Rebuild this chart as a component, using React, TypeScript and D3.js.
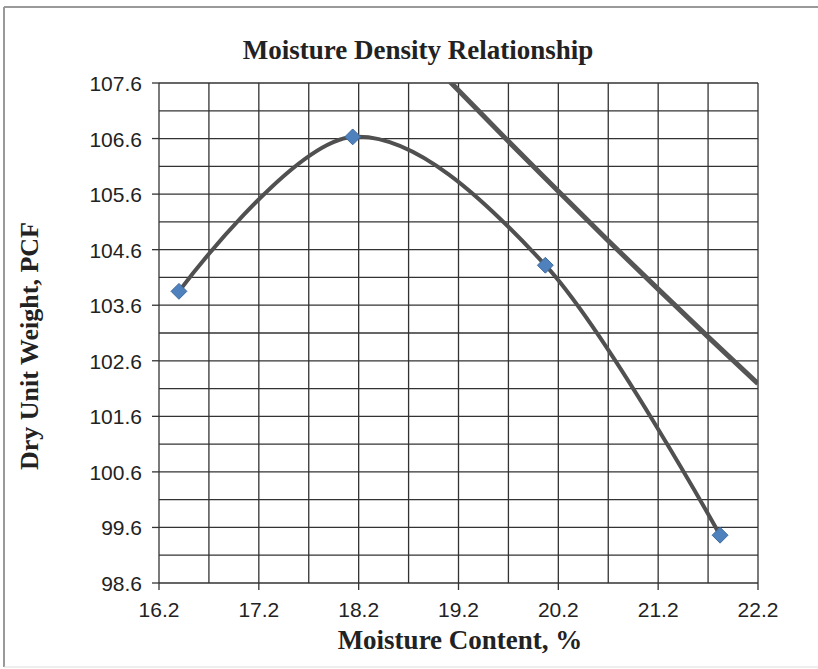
import React from 'react';
import * as d3 from 'd3';

const moisture = [16.4, 18.14, 20.07, 21.82];
const density = [103.85, 106.63, 104.32, 99.46];

const zavMoisture = [19.1, 19.7, 20.2, 20.7, 21.2, 21.7, 22.2];
const zavDensity = [107.65, 106.55, 105.65, 104.76, 103.89, 103.03, 102.19];

const xTicks = [16.2, 17.2, 18.2, 19.2, 20.2, 21.2, 22.2];
const yTicks = [98.6, 99.6, 100.6, 101.6, 102.6, 103.6, 104.6, 105.6, 106.6, 107.6];

const W = 818;
const H = 669;
const margin = { top: 83, right: 60, bottom: 86, left: 151 };

export default function App() {
  const innerW = W - margin.left - margin.right - 8;
  const innerH = H - margin.top - margin.bottom;

  const x = d3.scaleLinear().domain([16.2, 22.2]).range([0, innerW]);
  const y = d3.scaleLinear().domain([98.6, 107.6]).range([innerH, 0]);

  const xGrid = d3.range(16.2, 22.21, 0.5);
  const yGrid = d3.range(98.6, 107.61, 0.5);

  const pts = moisture.map((m, i) => [m, density[i]] as [number, number]);
  const zav = zavMoisture.map((m, i) => [m, zavDensity[i]] as [number, number]);

  const smooth = d3
    .line<[number, number]>()
    .x((d) => x(d[0]))
    .y((d) => y(d[1]))
    .curve(d3.curveCatmullRom.alpha(0));

  const serif = '"Liberation Serif", "Times New Roman", serif';
  const sans = '"Liberation Sans", Arial, sans-serif';
  const gridColor = '#333';

  const diamond = d3.symbol().type(d3.symbolDiamond2).size(160)();

  return (
    <svg width={W} height={H} style={{ position: 'absolute', left: 0, top: 0, background: '#fff' }}>
      <line x1={4} y1={7} x2={818} y2={7} stroke="#999" strokeWidth={2} />
      <line x1={4} y1={7} x2={4} y2={667} stroke="#999" strokeWidth={2} />
      <line x1={4} y1={667} x2={818} y2={667} stroke="#ddd" strokeWidth={1} />

      <text x={418} y={59} textAnchor="middle" fontFamily={serif} fontWeight="bold" fontSize={27} fill="#222">
        Moisture Density Relationship
      </text>

      <g transform={`translate(${margin.left + 8},${margin.top})`}>
        <defs>
          <clipPath id="plot">
            <rect x={0} y={0} width={innerW} height={innerH} />
          </clipPath>
        </defs>
        {xGrid.map((v) => (
          <line key={'vx' + v} x1={x(v)} x2={x(v)} y1={0} y2={innerH} stroke={gridColor} strokeWidth={1.3} />
        ))}
        {yGrid.map((v) => (
          <line key={'hy' + v} x1={0} x2={innerW} y1={y(v)} y2={y(v)} stroke={gridColor} strokeWidth={1.3} />
        ))}
        {xTicks.map((v) => (
          <g key={'xt' + v}>
            <line x1={x(v)} x2={x(v)} y1={innerH} y2={innerH + 7} stroke={gridColor} strokeWidth={1.3} />
            <text x={x(v)} y={innerH + 34} textAnchor="middle" fontFamily={sans} fontSize={21} fill="#222">
              {v.toFixed(1)}
            </text>
          </g>
        ))}
        {yTicks.map((v) => (
          <g key={'yt' + v}>
            <line x1={-7} x2={0} y1={y(v)} y2={y(v)} stroke={gridColor} strokeWidth={1.3} />
            <text x={-17} y={y(v) + 8} textAnchor="end" fontFamily={sans} fontSize={21} fill="#222">
              {v.toFixed(1)}
            </text>
          </g>
        ))}

        <g clipPath="url(#plot)">
          <path d={smooth(zav) || ''} fill="none" stroke="#555" strokeWidth={5} />
          <path d={smooth(pts) || ''} fill="none" stroke="#505050" strokeWidth={4} />
        </g>
        {pts.map((p, i) => (
          <path
            key={'p' + i}
            d={diamond || ''}
            transform={`translate(${x(p[0])},${y(p[1])})`}
            fill="#4f81bd"
            stroke="#3d6a9e"
            strokeWidth={1}
          />
        ))}
      </g>

      <text x={460} y={649} textAnchor="middle" fontFamily={serif} fontWeight="bold" fontSize={27} fill="#222">
        Moisture Content, %
      </text>
      <text
        transform="translate(38,346) rotate(-90)"
        textAnchor="middle"
        fontFamily={serif}
        fontWeight="bold"
        fontSize={26}
        fill="#222"
      >
        Dry Unit Weight, PCF
      </text>
    </svg>
  );
}
